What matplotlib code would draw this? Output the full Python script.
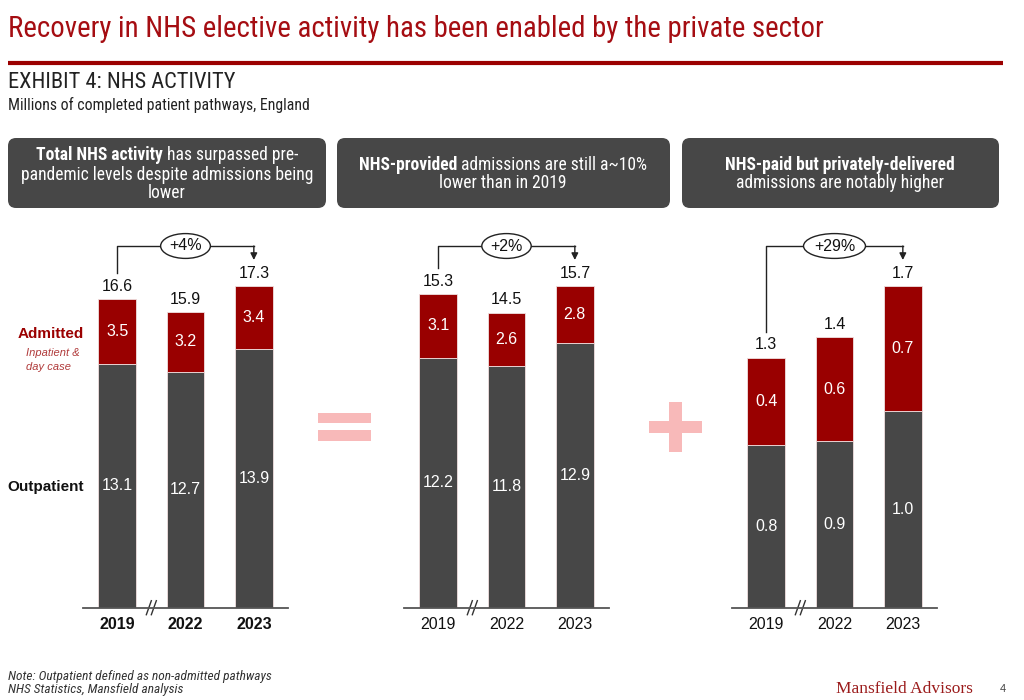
import matplotlib
matplotlib.use('Agg')
import matplotlib.pyplot as plt
from matplotlib import font_manager
from matplotlib.patches import FancyBboxPatch, Rectangle

# values in millions of completed patient pathways
years = ['2019', '2022', '2023']

# total NHS activity
total_out = [13.1, 12.7, 13.9]
total_adm = [3.5, 3.2, 3.4]
total_sum = [16.6, 15.9, 17.3]

# NHS-provided
nhs_out = [12.2, 11.8, 12.9]
nhs_adm = [3.1, 2.6, 2.8]
nhs_sum = [15.3, 14.5, 15.7]

# NHS-paid, privately delivered (printed labels are rounded)
ind_out = [0.8, 0.9, 1.0]
ind_adm = [0.4, 0.6, 0.7]
ind_sum = [1.3, 1.4, 1.7]
# bar heights
ind_out_bar = [0.86, 0.88, 1.04]
ind_adm_bar = [0.46, 0.55, 0.66]

growth = ['+4%', '+2%', '+29%']

GREY = '#474747'
RED = '#990000'
PINK = '#f8b9b9'


def pick(*names):
    for n in names:
        try:
            font_manager.findfont(font_manager.FontProperties(family=n), fallback_to_default=False)
            return n
        except ValueError:
            pass
    return 'DejaVu Sans'


NARROW = pick('Roboto Condensed', 'Liberation Sans Narrow', 'Liberation Sans')
SANS = pick('Liberation Sans', 'DejaVu Sans')
SERIF = pick('DejaVu Serif Condensed', 'Liberation Serif', 'DejaVu Serif')

fig = plt.figure(figsize=(10.24, 7), dpi=100)
# pixel overlay for the slide furniture
ov = fig.add_axes([0, 0, 1, 1], zorder=0)
ov.set_xlim(0, 1024)
ov.set_ylim(700, 0)
ov.axis('off')
renderer = fig.canvas.get_renderer()


def width_of(t):
    return t.get_window_extent(renderer).width


def fit(x, y, s, w, size=12, **kw):
    # scale the font so the text covers the width seen in the reference
    t = ov.text(x, y, s, fontsize=size, va='baseline', **kw)
    t.set_fontsize(size * w / width_of(t))
    return t


fit(8, 37, 'Recovery in NHS elective activity has been enabled by the private sector', 817, 18,
    color='#a50d12', family=NARROW)
ov.plot([8, 1003], [63, 63], color='#9b0000', lw=3, solid_capstyle='butt')
fit(8, 88, 'EXHIBIT 4: NHS ACTIVITY', 226, 13, color='#222222', family=NARROW)
fit(8, 110, 'Millions of completed patient pathways, England', 303, 9, color='#222222', family=NARROW)

# callout boxes
for x0, x1 in [(8, 326), (337, 670), (682, 999)]:
    ov.add_patch(FancyBboxPatch((x0, 138), x1 - x0, 70, boxstyle='round,pad=0,rounding_size=8',
                                fc=GREY, ec='none'))


def measure(parts, size):
    ts = [ov.text(0, 0, s, fontsize=size, fontweight=wt, family=NARROW) for s, wt in parts]
    ws = [width_of(t) for t in ts]
    for t in ts:
        t.remove()
    return ws


a = ov.text(0, 0, 'a a', fontsize=10, family=NARROW)
b = ov.text(0, 0, 'aa', fontsize=10, family=NARROW)
space10 = width_of(a) - width_of(b)
a.remove()
b.remove()


def rich(xc, y, parts, size):
    ws = measure(parts, size)
    sp = space10 * size / 10
    x = xc - (sum(ws) + sp * (len(parts) - 1)) / 2
    for (s, wt), w in zip(parts, ws):
        ov.text(x, y, s, fontsize=size, fontweight=wt, family=NARROW, color='white', va='baseline')
        x += w + sp


first = [('Total NHS activity', 'bold'), ('has surpassed pre-', 'normal')]
ws = measure(first, 10)
box_size = 10 * 262 / (sum(ws) + space10)

rich(167, 160, first, box_size)
rich(167, 180, [('pandemic levels despite admissions being', 'normal')], box_size)
rich(167, 198, [('lower', 'normal')], box_size)
rich(503, 170, [('NHS-provided', 'bold'), ('admissions are still a~10%', 'normal')], box_size)
rich(503, 188, [('lower than in 2019', 'normal')], box_size)
rich(840, 170, [('NHS-paid but privately-delivered', 'bold')], box_size)
rich(840, 188, [('admissions are notably higher', 'normal')], box_size)

# equals and plus signs
ov.add_patch(Rectangle((318, 413), 53, 10, fc=PINK, ec='none'))
ov.add_patch(Rectangle((318, 430), 53, 11, fc=PINK, ec='none'))
ov.add_patch(Rectangle((649, 421), 53, 12, fc=PINK, ec='none'))
ov.add_patch(Rectangle((669, 402), 13, 50, fc=PINK, ec='none'))

BASE = 607.7   # baseline pixel row
TOPPX = 230.0  # top of each bar axes
MAXTOP = 286.0  # pixel row reached by the tallest bar in every panel
AXW = 205.0


def draw_panel(left, out_bar, adm_bar, out_lbl, adm_lbl, tot_lbl, pct, bold_years):
    ax = fig.add_axes([left / 1024, (700 - BASE) / 700, AXW / 1024, (BASE - TOPPX) / 700], zorder=1)
    ax.patch.set_alpha(0)
    tops = [o + a for o, a in zip(out_bar, adm_bar)]
    s = (BASE - MAXTOP) / max(tops)          # pixels per unit
    ax.set_ylim(0, (BASE - TOPPX) / s)
    ax.set_xlim(-0.5, 2.5)
    px = lambda p: p / s                     # pixel offset to data units
    x = range(len(years))
    ax.bar(x, out_bar, width=0.55, color=GREY, edgecolor='#f0e0e0', lw=0.6)
    ax.bar(x, adm_bar, bottom=out_bar, width=0.55, color=RED, edgecolor='#f0e0e0', lw=0.6)
    for i in x:
        ax.text(i, out_bar[i] / 2, f'{out_lbl[i]:.1f}', ha='center', va='center', color='white',
                fontsize=11.5, family=SANS)
        ax.text(i, out_bar[i] + adm_bar[i] / 2, f'{adm_lbl[i]:.1f}', ha='center', va='center',
                color='white', fontsize=11.5, family=SANS)
        ax.text(i, tops[i] + px(13), f'{tot_lbl[i]:.1f}', ha='center', va='center', color='#111111',
                fontsize=11.5, family=SANS)
    for sp in ['top', 'left', 'right']:
        ax.spines[sp].set_visible(False)
    ax.spines['bottom'].set_color('#555555')
    ax.spines['bottom'].set_linewidth(1.3)
    ax.set_yticks([])
    ax.set_xticks(list(x), years, fontsize=11.5, family=SANS, color='#111111',
                  fontweight='bold' if bold_years else 'normal')
    ax.tick_params(axis='x', length=0, pad=7)

    # axis break between 2019 and 2022
    dx = 3.0 / AXW
    for off in (-2.5, 2.5):
        xb = 0.5 + off * dx
        ax.plot([xb - 2.5 * dx, xb + 2.5 * dx], [px(-7), px(7)], color='#333333', lw=1, clip_on=False)

    # growth connector from 2019 to 2023
    level = px(BASE - 246)
    ax.plot([0, 0, 2], [tops[0] + px(26), level, level], color='#222222', lw=1, clip_on=False)
    ax.annotate('', xy=(2, tops[2] + px(26)), xytext=(2, level),
                arrowprops=dict(arrowstyle='-|>', color='#222222', lw=1, mutation_scale=10,
                                shrinkA=0, shrinkB=0), annotation_clip=False)
    ax.text(1, level, pct, ha='center', va='center', fontsize=11.5, family=SANS, color='#111111',
            bbox=dict(boxstyle='ellipse,pad=0.08', fc='white', ec='#222222', lw=1), zorder=5)
    return ax


draw_panel(83, total_out, total_adm, total_out, total_adm, total_sum, growth[0], True)
draw_panel(404, nhs_out, nhs_adm, nhs_out, nhs_adm, nhs_sum, growth[1], False)
draw_panel(732, ind_out_bar, ind_adm_bar, ind_out, ind_adm, ind_sum, growth[2], False)

# series labels on the first panel
ov.text(84, 334, 'Admitted', ha='right', va='center', fontsize=11, fontweight='bold', color='#9b0000',
        family=SANS)
ov.text(26, 353, 'Inpatient &', ha='left', va='center', fontsize=8, style='italic', color='#b03a3a',
        family=SANS)
ov.text(26, 367, 'day case', ha='left', va='center', fontsize=8, style='italic', color='#b03a3a',
        family=SANS)
ov.text(84, 487, 'Outpatient', ha='right', va='center', fontsize=11, fontweight='bold', color='#111111',
        family=SANS)

# footer
fit(8, 680, 'Note: Outpatient defined as non-admitted pathways', 265, 8, style='italic', color='#333333',
    family=NARROW)
fit(8, 693, 'NHS Statistics, Mansfield analysis', 175, 8, style='italic', color='#333333', family=NARROW)
fit(836, 693, 'Mansfield Advisors', 136, 13, color='#9b1b1b', family=SERIF)
ov.text(1000, 692, '4', fontsize=8, color='#444444', family=SANS, va='baseline')

fig.savefig('out.png', dpi=100)
